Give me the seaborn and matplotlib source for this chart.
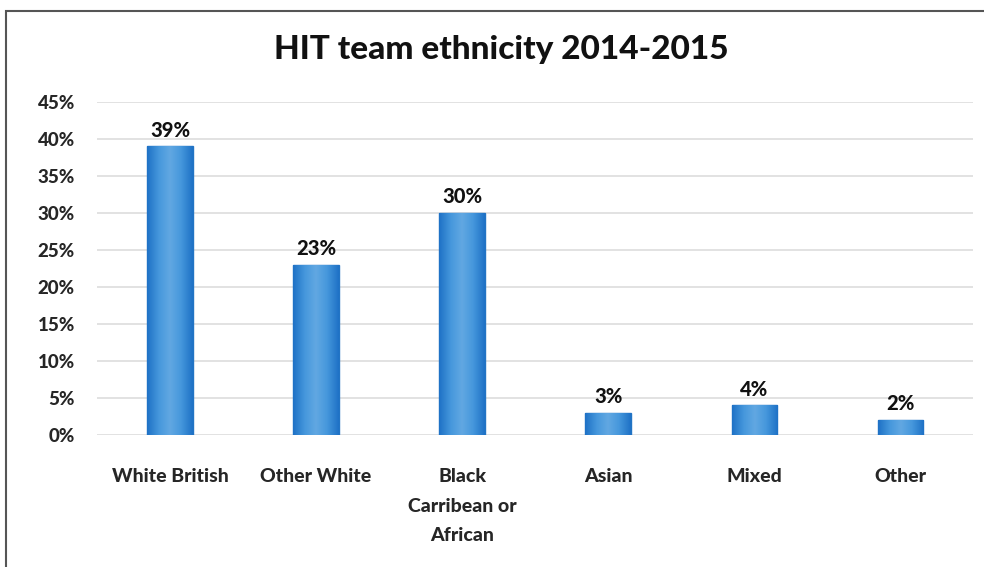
import matplotlib
matplotlib.use("Agg")
import matplotlib.pyplot as plt
import numpy as np
import pandas as pd
import seaborn as sns
from matplotlib.patches import Rectangle
from matplotlib.colors import LinearSegmentedColormap

categories = ["White British", "Other White", "Black\nCarribean or\nAfrican", "Asian", "Mixed", "Other"]
values = [39, 23, 30, 3, 4, 2]
yticks = [0, 5, 10, 15, 20, 25, 30, 35, 40, 45]

df = pd.DataFrame({"group": categories, "pct": values})

sns.set_style("white")
plt.rcParams["font.family"] = ["Lato", "DejaVu Sans"]
W = 900  # heavy weight, closer to the original's bold Calibri look

fig = plt.figure(figsize=(9.84, 5.67), dpi=100)
ax = fig.add_axes([0.0986, 0.233, 0.8904, 0.587])

sns.barplot(data=df, x="group", y="pct", color="#3f92da", width=0.31,
            edgecolor="#2274c4", linewidth=1.0, saturation=1, ax=ax, zorder=3)

# horizontal gradient inside each bar, like the original's shaded bars
grad_cmap = LinearSegmentedColormap.from_list(
    "bar", ["#1f72c6", "#4597dc", "#62a8e2", "#4597dc", "#1f72c6"])
grad = np.linspace(0, 1, 64).reshape(1, -1)
for p in ax.patches:
    x0, y0, w, h = p.get_x(), p.get_y(), p.get_width(), p.get_height()
    im = ax.imshow(grad, cmap=grad_cmap, aspect="auto", zorder=3.5,
                   extent=(x0, x0 + w, y0, y0 + h), interpolation="bicubic")
    im.set_clip_path(p)

for i, v in enumerate(values):
    ax.text(i, v + 0.9, f"{v}%", ha="center", va="bottom",
            fontsize=14.5, fontweight=W, color="#111111", zorder=5)

ax.set_xlim(-0.5, 5.5)
ax.set_ylim(0, 45)
ax.set_yticks(yticks)
ax.set_yticklabels([f"{t}%" for t in yticks], fontsize=13.5, fontweight=W)
ax.grid(axis="y", color="#dddddd", linewidth=1.2, zorder=0)
ax.set_axisbelow(True)
for s in ax.spines.values():
    s.set_visible(False)
ax.tick_params(axis="y", length=0, pad=16)
ax.tick_params(axis="x", length=0, pad=24)
for lab in ax.get_xticklabels():
    lab.set_fontsize(14)
    lab.set_fontweight(W)
    lab.set_verticalalignment("top")
    lab.set_linespacing(1.9)
ax.set_xlabel("")
ax.set_ylabel("")

fig.text(0.509, 0.913, "HIT team ethnicity 2014-2015", ha="center", va="center",
         fontsize=24, fontweight=W, color="#111111")

fig.patches.append(Rectangle((6 / 984, -0.1), 1.2, 1 - 11 / 567 + 0.1,
                             transform=fig.transFigure, fill=False,
                             edgecolor="#555555", linewidth=1.5))

fig.savefig("out.png", dpi=100)
